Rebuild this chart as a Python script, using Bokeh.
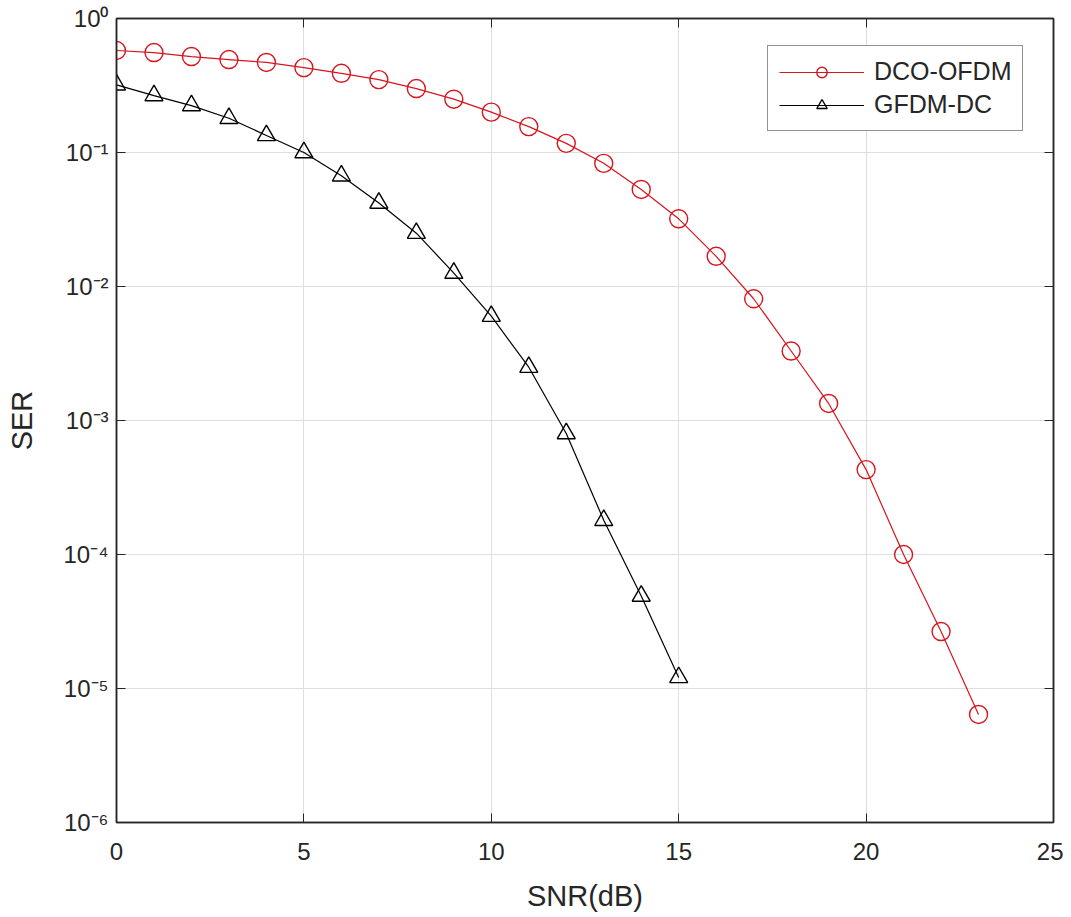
from bokeh.plotting import figure
from bokeh.models import (ColumnDataSource, FixedTicker, CustomJSTickFormatter, Legend, LegendItem,
                          LinearAxis, LogAxis, Range1d)
from bokeh.embed import file_html
from bokeh.resources import INLINE

# ---- data ----
snr_dco = list(range(0, 24))
ser_dco = [0.577, 0.557, 0.52, 0.494, 0.47, 0.43, 0.39, 0.35, 0.30, 0.25, 0.20, 0.156,
           0.117, 0.083, 0.053, 0.032, 0.0168, 0.0081, 0.0033, 0.00134, 4.3e-4, 1.0e-4,
           2.66e-5, 6.4e-6]
snr_gfdm = list(range(0, 16))
ser_gfdm = [0.32, 0.266, 0.224, 0.18, 0.134, 0.10, 0.067, 0.042, 0.025, 0.0126, 0.006,
            0.0025, 8.0e-4, 1.8e-4, 4.9e-5, 1.21e-5]

x_ticks = [0, 5, 10, 15, 20, 25]
y_ticks = [1e-6, 1e-5, 1e-4, 1e-3, 1e-2, 1e-1, 1]
y_tick_labels = ["10\u207b\u2076", "10\u207b\u2075", "10\u207b\u2074", "10\u207b\u00b3",
                 "10\u207b\u00b2", "10\u207b\u00b9", "10\u2070"]
series_names = ["DCO-OFDM", "GFDM-DC"]
x_label = "SNR(dB)"
y_label = "SER"

RED = "#d8141c"
DARK = "#262626"
FONT = "Liberation Sans"

p = figure(frame_width=937, frame_height=804, y_axis_type="log",
           x_range=Range1d(0, 25), y_range=Range1d(1e-6, 1),
           output_backend="svg", toolbar_location=None,
           min_border_left=116, min_border_right=10, min_border_top=18, min_border_bottom=80)

p.background_fill_color = "white"
p.border_fill_color = "white"
p.outline_line_color = DARK
p.outline_line_width = 1.5

fmt = CustomJSTickFormatter(args=dict(yvals=y_ticks, ylabels=y_tick_labels), code="""
const i = yvals.findIndex(t => Math.abs(Math.log10(t) - Math.log10(tick)) < 1e-6);
return i >= 0 ? ylabels[i] : '';
""")
blank = CustomJSTickFormatter(code="return '';")

def style_axis(ax):
    ax.axis_line_color = DARK
    ax.axis_line_width = 1.5
    ax.major_tick_in = 9
    ax.major_tick_out = 0
    ax.major_tick_line_color = DARK
    ax.minor_tick_line_color = None
    ax.major_label_text_font = FONT
    ax.major_label_text_color = DARK
    ax.major_label_text_font_size = "24px"
    ax.axis_label_text_font = FONT
    ax.axis_label_text_font_style = "normal"
    ax.axis_label_text_color = DARK
    ax.axis_label_text_font_size = "29px"

xa = p.xaxis[0]
xa.ticker = FixedTicker(ticks=x_ticks)
style_axis(xa)
xa.major_label_standoff = 20
xa.axis_label = x_label
xa.axis_label_standoff = 17

ya = p.yaxis[0]
ya.ticker = FixedTicker(ticks=y_ticks)
ya.formatter = fmt
style_axis(ya)
ya.major_label_standoff = 8
ya.axis_label = y_label
ya.axis_label_standoff = 22

top = LinearAxis(ticker=FixedTicker(ticks=x_ticks), formatter=blank, major_label_standoff=0)
style_axis(top)
p.add_layout(top, "above")
right = LogAxis(ticker=FixedTicker(ticks=y_ticks), formatter=blank, major_label_standoff=0)
style_axis(right)
p.add_layout(right, "right")

p.xgrid.ticker = FixedTicker(ticks=x_ticks)
p.ygrid.ticker = FixedTicker(ticks=y_ticks)
for g in (p.xgrid, p.ygrid):
    g.grid_line_color = "#dedede"
    g.grid_line_width = 1

src_d = ColumnDataSource(dict(x=snr_dco, y=ser_dco))
src_g = ColumnDataSource(dict(x=snr_gfdm, y=ser_gfdm))

l1 = p.line("x", "y", source=src_d, line_color=RED, line_width=1.2)
m1 = p.scatter("x", "y", source=src_d, marker="circle", size=18, fill_color=None,
               line_color=RED, line_width=1.4)
l2 = p.line("x", "y", source=src_g, line_color="black", line_width=1.2)
m2 = p.scatter("x", "y", source=src_g, marker="triangle", size=18, fill_color=None,
               line_color="black", line_width=1.4)

legend = Legend(items=[LegendItem(label=series_names[0], renderers=[l1, m1]),
                       LegendItem(label=series_names[1], renderers=[l2, m2])],
                location=(651, 691))
legend.label_text_font = FONT
legend.label_text_font_size = "25px"
legend.label_text_color = DARK
legend.glyph_width = 85
legend.glyph_height = 26
legend.label_height = 26
legend.label_standoff = 10
legend.spacing = 4
legend.padding = 11
legend.margin = 0
legend.border_line_color = DARK
legend.border_line_width = 1.5
legend.background_fill_color = "white"
legend.background_fill_alpha = 1
p.add_layout(legend, "center")

open("out.html", "w").write(file_html(p, INLINE))
